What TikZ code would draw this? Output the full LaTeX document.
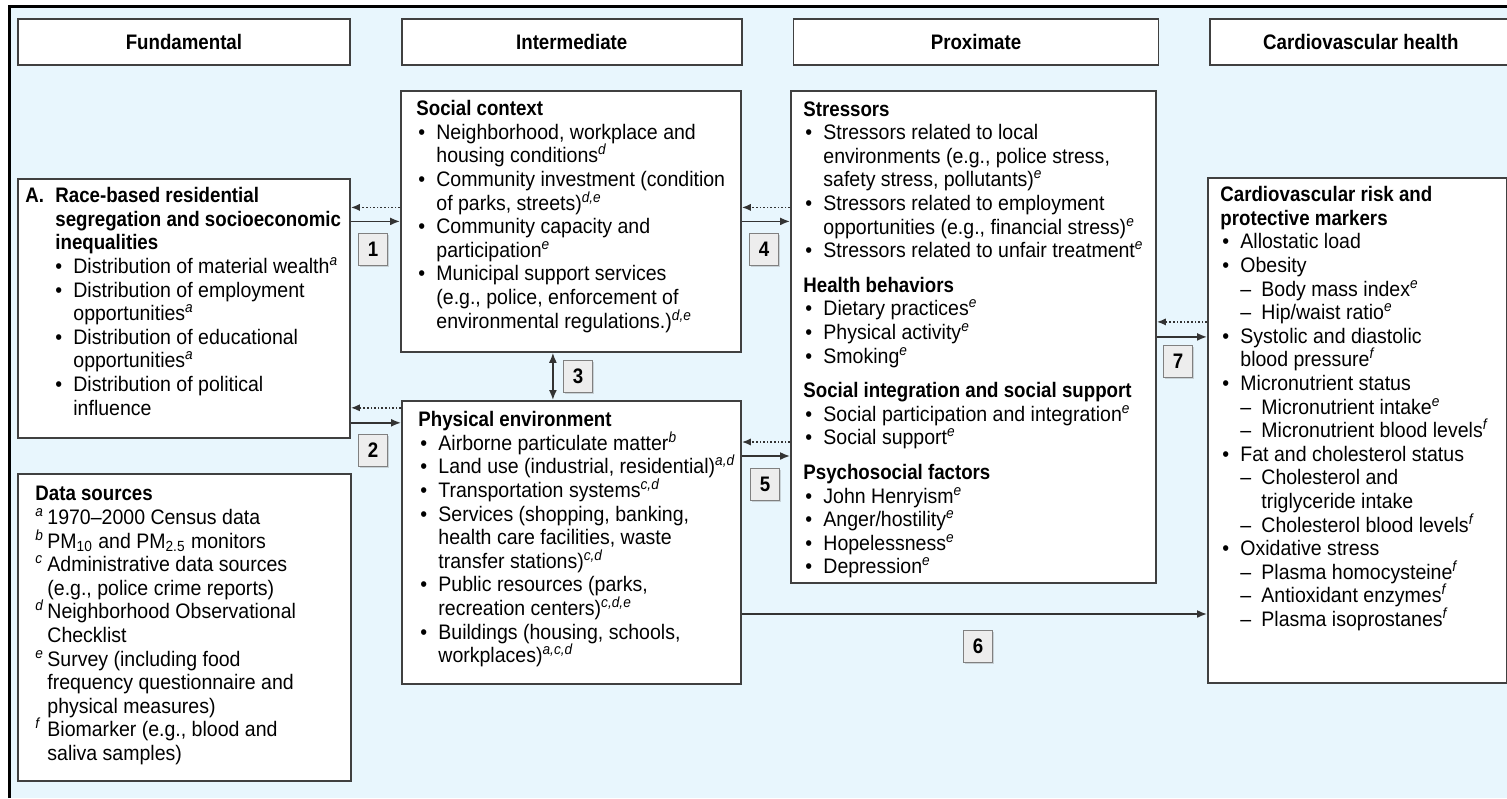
\documentclass[tikz,border=0pt]{standalone}
\usepackage{fontspec}
\setmainfont{Liberation Sans}[UprightFeatures={FakeStretch=0.93},BoldFeatures={FakeStretch=0.89},ItalicFeatures={FakeStretch=0.93}]
\usetikzlibrary{arrows.meta,positioning,calc,shadows}
\definecolor{bgblue}{RGB}{232,246,253}
\newcommand{\dfont}{\fontsize{10.5}{11.8}\selectfont}
\newcommand{\bul}[1][0pt]{\hspace*{#1}\makebox[10pt][l]{\hspace{1pt}\textbullet}}
\newcommand{\cont}[1][10pt]{\hspace*{#1}}
\newcommand{\dsh}{\hspace*{10pt}\makebox[10.5pt][l]{--}}
\newcommand{\sref}[1]{\textsuperscript{\itshape #1}}
\tikzset{
  hdr/.style   ={draw=black!75, line width=0.9pt, fill=white, font=\dfont\bfseries,
                 text=black, inner sep=0pt, minimum height=23pt},
  bx/.style    ={draw=black!75, line width=0.9pt, fill=white, inner sep=0pt, anchor=north west},
  txt/.style   ={align=left, inner sep=0pt, anchor=north west, text=black, font=\dfont,
                 execute at begin node={\rule{0pt}{8pt}}},
  numbox/.style={draw=black!50, fill=black!7, font=\dfont\bfseries, text=black, inner sep=0pt,
                 minimum width=14.5pt, minimum height=16pt,
                 drop shadow={shadow xshift=0.8pt, shadow yshift=-0.8pt, opacity=0.3}},
  ar/.style    ={-{Latex[length=5pt,width=4pt]}, draw=black!80, line width=0.8pt},
  dar/.style   ={-{Latex[length=4.5pt,width=3.6pt]}, draw=black!80, line width=0.8pt, densely dotted},
  biar/.style  ={{Latex[length=5pt,width=4pt]}-{Latex[length=5pt,width=4pt]}, draw=black!80, line width=0.8pt},
}
\begin{document}
\begin{tikzpicture}[x=0.5pt, y=-0.5pt, font=\dfont]
\useasboundingbox (0,0) rectangle (1507,798);
% panel
\fill[bgblue] (9,6) rectangle (1507,798);
\draw[line width=1.5pt] (9,798) -- (9,6) -- (1507,6);

% column headers
\node[hdr, minimum width=166pt, anchor=north west] (fund) at (17,18) {Fundamental};
\node[hdr, minimum width=170pt, right=25pt of fund] (inter) {Intermediate};
\node[hdr, minimum width=182.5pt, right=25pt of inter] (proxh) {Proximate};
\node[hdr, minimum width=150.5pt, right=25pt of proxh] (cvh) {Cardiovascular health};

% boxes
\node[bx, minimum width=166pt, minimum height=129.5pt] (seg) at (17,178) {};
\node[bx, minimum width=166.5pt, minimum height=153.5pt] (src) at (17,473) {};
\node[bx, minimum width=170pt, minimum height=130.5pt] (soc) at (400,90) {};
\node[bx, minimum width=169.5pt, minimum height=141.5pt] (phys) at (401,400) {};
\node[bx, minimum width=182.5pt, minimum height=246pt] (prox) at (790,90) {};
\node[bx, minimum width=149.5pt, minimum height=252.5pt] (cv) at (1207,177) {};

% box texts
\node[txt] (segtxt) at ([xshift=4pt,yshift=-4.5pt]seg.north west) {%
\makebox[15pt][l]{\textbf{A.}}\textbf{Race-based residential}\\
\hspace*{15pt}\textbf{segregation and socioeconomic}\\
\hspace*{15pt}\textbf{inequalities}\\
\bul[14pt]Distribution of material wealth\sref{a}\\
\bul[14pt]Distribution of employment\\
\cont[24pt]opportunities\sref{a}\\
\bul[14pt]Distribution of educational\\
\cont[24pt]opportunities\sref{a}\\
\bul[14pt]Distribution of political\\
\cont[24pt]influence};

\node[txt] (srctxt) at ([xshift=9pt,yshift=-6.5pt]src.north west) {%
\textbf{Data sources}\\
\makebox[6pt][l]{\sref{a}}1970--2000 Census data\\
\makebox[6pt][l]{\sref{b}}PM\textsubscript{10} and PM\textsubscript{2.5} monitors\\
\makebox[6pt][l]{\sref{c}}Administrative data sources\\
\hspace*{6pt}(e.g., police crime reports)\\
\makebox[6pt][l]{\sref{d}}Neighborhood Observational\\
\hspace*{6pt}Checklist\\
\makebox[6pt][l]{\sref{e}}Survey (including food\\
\hspace*{6pt}frequency questionnaire and\\
\hspace*{6pt}physical measures)\\
\makebox[6pt][l]{\sref{f}}Biomarker (e.g., blood and\\
\hspace*{6pt}saliva samples)};

\node[txt] (soctxt) at ([xshift=8pt,yshift=-5pt]soc.north west) {%
\textbf{Social context}\\
\bul Neighborhood, workplace and\\
\cont housing conditions\sref{d}\\
\bul Community investment (condition\\
\cont of parks, streets)\sref{d,e}\\
\bul Community capacity and\\
\cont participation\sref{e}\\
\bul Municipal support services\\
\cont (e.g., police, enforcement of\\
\cont environmental regulations.)\sref{d,e}};

\node[txt] (phystxt) at ([xshift=8.5pt,yshift=-5.5pt]phys.north west) {%
\textbf{Physical environment}\\
\bul Airborne particulate matter\sref{b}\\
\bul Land use (industrial, residential)\sref{a,d}\\
\bul Transportation systems\sref{c,d}\\
\bul Services (shopping, banking,\\
\cont health care facilities, waste\\
\cont transfer stations)\sref{c,d}\\
\bul Public resources (parks,\\
\cont recreation centers)\sref{c,d,e}\\
\bul Buildings (housing, schools,\\
\cont workplaces)\sref{a,c,d}};

\node[txt] (proxtxt) at ([xshift=6.5pt,yshift=-5.5pt]prox.north west) {%
\textbf{Stressors}\\
\bul Stressors related to local\\
\cont environments (e.g., police stress,\\
\cont safety stress, pollutants)\sref{e}\\
\bul Stressors related to employment\\
\cont opportunities (e.g., financial stress)\sref{e}\\
\bul Stressors related to unfair treatment\sref{e}\\[5.5pt]
\textbf{Health behaviors}\\
\bul Dietary practices\sref{e}\\
\bul Physical activity\sref{e}\\
\bul Smoking\sref{e}\\[5.5pt]
\textbf{Social integration and social support}\\
\bul Social participation and integration\sref{e}\\
\bul Social support\sref{e}\\[5.5pt]
\textbf{Psychosocial factors}\\
\bul John Henryism\sref{e}\\
\bul Anger/hostility\sref{e}\\
\bul Hopelessness\sref{e}\\
\bul Depression\sref{e}};

\node[txt] (cvtxt) at ([xshift=6.5pt,yshift=-4.5pt]cv.north west) {%
\textbf{Cardiovascular risk and}\\
\textbf{protective markers}\\
\bul Allostatic load\\
\bul Obesity\\
\dsh Body mass index\sref{e}\\
\dsh Hip/waist ratio\sref{e}\\
\bul Systolic and diastolic\\
\cont blood pressure\sref{f}\\
\bul Micronutrient status\\
\dsh Micronutrient intake\sref{e}\\
\dsh Micronutrient blood levels\sref{f}\\
\bul Fat and cholesterol status\\
\dsh Cholesterol and\\
\cont[20.5pt]triglyceride intake\\
\dsh Cholesterol blood levels\sref{f}\\
\bul Oxidative stress\\
\dsh Plasma homocysteine\sref{f}\\
\dsh Antioxidant enzymes\sref{f}\\
\dsh Plasma isoprostanes\sref{f}};

% pathways
\coordinate (d1) at ([yshift=7pt]soc.west);
\draw[dar] (d1) -- (d1 -| seg.east);
\draw[ar] (soc.west -| seg.east) -- (soc.west);

\coordinate (s2) at ([yshift=8pt]seg.south east);
\coordinate (d2) at ([yshift=15.5pt]seg.south east);
\draw[dar] (d2 -| phys.west) -- (d2);
\draw[ar] (s2) -- (s2 -| phys.west);

\coordinate (c3) at ([xshift=-9pt]soc.south);
\draw[biar] (c3) -- (c3 |- phys.north);

\coordinate (d4) at ([yshift=7pt]soc.east);
\draw[dar] (d4 -| prox.west) -- (d4);
\draw[ar] (soc.east) -- (soc.east -| prox.west);

\coordinate (s5) at ([yshift=-28pt]phys.north east);
\coordinate (d5) at ([yshift=-21pt]phys.north east);
\draw[dar] (d5 -| prox.west) -- (d5);
\draw[ar] (s5) -- (s5 -| prox.west);

\coordinate (s6) at ([yshift=-107pt]phys.north east);
\draw[ar] (s6) -- (s6 -| cv.west);

\coordinate (d7) at ([yshift=7.5pt]prox.east);
\draw[dar] (d7 -| cv.west) -- (d7);
\draw[ar] (prox.east) -- (prox.east -| cv.west);

% pathway numbers
\node[numbox] (n1) at (373,249) {1};
\node[numbox] (n2) at (373,450) {2};
\node[numbox] (n3) at (578,376) {3};
\node[numbox] (n4) at (764,249) {4};
\node[numbox] (n5) at (765,484) {5};
\node[numbox] (n6) at (978,646) {6};
\node[numbox] (n7) at (1178,361) {7};
\end{tikzpicture}
\end{document}
